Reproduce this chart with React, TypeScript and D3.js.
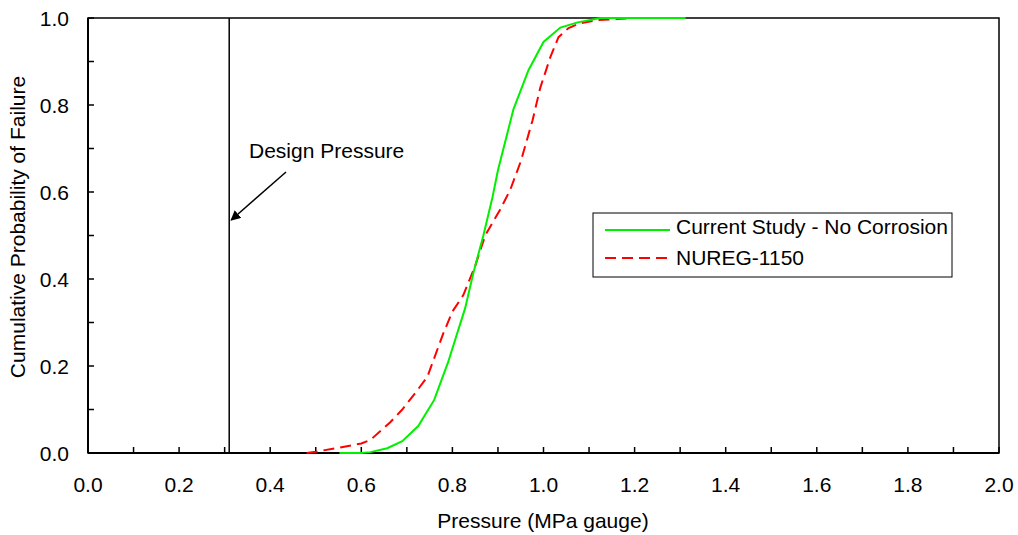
import React from "react";
import * as d3 from "d3";

const xTickValues = [0, 0.2, 0.4, 0.6, 0.8, 1.0, 1.2, 1.4, 1.6, 1.8, 2.0];
const yTickValues = [0, 0.2, 0.4, 0.6, 0.8, 1.0];
const designPressure = 0.31;

const currentStudy: [number, number][] = [
  [0.552, 0], [0.6, 0], [0.62, 0.002], [0.657, 0.011], [0.69, 0.027], [0.725, 0.062],
  [0.76, 0.122], [0.79, 0.207], [0.828, 0.333], [0.846, 0.414], [0.868, 0.5],
  [0.888, 0.588], [0.9, 0.65], [0.934, 0.79], [0.967, 0.88], [1.0, 0.945],
  [1.037, 0.978], [1.075, 0.99], [1.125, 1.0], [1.312, 1.0],
];

const nureg: [number, number][] = [
  [0.48, 0], [0.5, 0.003], [0.55, 0.012], [0.6, 0.022], [0.62, 0.03], [0.663, 0.07],
  [0.69, 0.1], [0.72, 0.14], [0.745, 0.175], [0.78, 0.275], [0.8, 0.325], [0.824, 0.363],
  [0.85, 0.43], [0.872, 0.5], [0.905, 0.56], [0.927, 0.605], [0.95, 0.67], [0.976, 0.765],
  [0.993, 0.84], [1.015, 0.91], [1.033, 0.956], [1.055, 0.977], [1.08, 0.988],
  [1.118, 0.995], [1.2, 1.0],
];

const legendItems = ["Current Study - No Corrosion", "NUREG-1150"];

export default function App() {
  const W = 1018, H = 535;
  const left = 88, right = 999, top = 18, bottom = 453;
  const x = d3.scaleLinear().domain([0, 2]).range([left, right]);
  const y = d3.scaleLinear().domain([0, 1]).range([bottom, top]);
  const line = d3.line<[number, number]>().x(d => x(d[0])).y(d => y(d[1]));
  const font = "Liberation Sans, Arial, sans-serif";
  const fs = 21;
  const xMinor = d3.range(0, 2.0001, 0.1);
  const yMinor = d3.range(0, 1.0001, 0.1);

  return (
    <svg width={W} height={H} style={{ position: "absolute", left: 0, top: 0, background: "#fff" }}>
      <defs>
        <marker id="arr" viewBox="0 0 10 10" refX="9" refY="5" markerWidth="10" markerHeight="10" orient="auto" markerUnits="userSpaceOnUse">
          <path d="M0,0 L10,5 L0,10 z" fill="#000" />
        </marker>
      </defs>
      <rect x={left} y={top} width={right - left} height={bottom - top} fill="none" stroke="#000" strokeWidth={1.5} />
      {xMinor.map((v, i) => (
        <line key={"xt" + i} x1={x(v)} x2={x(v)} y1={bottom} y2={bottom - 6} stroke="#000" strokeWidth={1.5} />
      ))}
      {yMinor.map((v, i) => (
        <line key={"yt" + i} x1={left} x2={left + 6} y1={y(v)} y2={y(v)} stroke="#000" strokeWidth={1.5} />
      ))}
      <line x1={left} x2={right} y1={bottom} y2={bottom} stroke="#000" strokeWidth={2} />
      <line x1={left} x2={left} y1={top} y2={bottom} stroke="#000" strokeWidth={2} />
      {xTickValues.map((v, i) => (
        <text key={"xl" + i} x={x(v)} y={492} textAnchor="middle" fontFamily={font} fontSize={fs}>{v.toFixed(1)}</text>
      ))}
      {yTickValues.map((v, i) => (
        <text key={"yl" + i} x={69} y={y(v) + 7.5} textAnchor="end" fontFamily={font} fontSize={fs}>{v.toFixed(1)}</text>
      ))}
      <text x={543} y={528} textAnchor="middle" fontFamily={font} fontSize={fs}>Pressure (MPa gauge)</text>
      <text transform={`translate(25,227) rotate(-90)`} textAnchor="middle" fontFamily={font} fontSize={fs}>Cumulative Probability of Failure</text>

      <line x1={x(designPressure)} x2={x(designPressure)} y1={top} y2={bottom} stroke="#000" strokeWidth={1.5} />
      <text x={249} y={158} fontFamily={font} fontSize={fs}>Design Pressure</text>
      <line x1={286} y1={172} x2={x(designPressure) + 2} y2={220} stroke="#000" strokeWidth={1.5} markerEnd="url(#arr)" />

      <path d={line(nureg) || ""} fill="none" stroke="#ff0000" strokeWidth={2} strokeDasharray="11,6" />
      <path d={line(currentStudy) || ""} fill="none" stroke="#00f000" strokeWidth={2} />

      <rect x={593} y={213} width={359} height={64} fill="#fff" stroke="#000" strokeWidth={1} />
      <line x1={605} x2={670} y1={230} y2={230} stroke="#00f000" strokeWidth={2} />
      <line x1={605} x2={670} y1={258} y2={258} stroke="#ff0000" strokeWidth={2} strokeDasharray="11,6" />
      <text x={676} y={234} fontFamily={font} fontSize={fs}>{legendItems[0]}</text>
      <text x={676} y={265} fontFamily={font} fontSize={fs}>{legendItems[1]}</text>
    </svg>
  );
}
